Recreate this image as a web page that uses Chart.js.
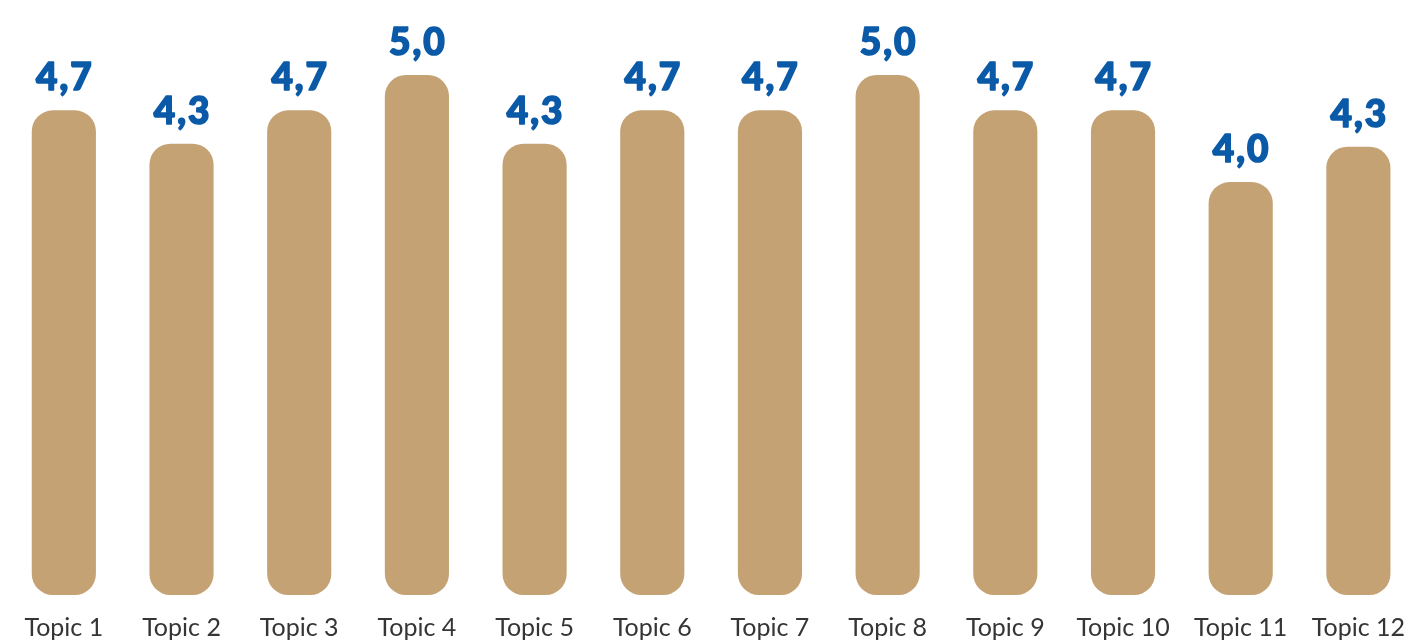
<!DOCTYPE html>
<html>
<head>
<meta charset="utf-8">
<script src="https://cdn.jsdelivr.net/npm/chart.js@4/dist/chart.umd.min.js"></script>
<style>
  html, body { margin: 0; padding: 0; background: #ffffff; overflow: hidden; }
  /* o gráfico passa um pouco da janela, como no recorte original */
  canvas { display: block; }
</style>
</head>
<body>
<canvas id="grafico" width="1423" height="642"></canvas>
<script>
const topicos = ['Topic 1', 'Topic 2', 'Topic 3', 'Topic 4', 'Topic 5', 'Topic 6',
                 'Topic 7', 'Topic 8', 'Topic 9', 'Topic 10', 'Topic 11', 'Topic 12'];
const notas = [4.66, 4.34, 4.66, 5.0, 4.34, 4.66, 4.66, 5.0, 4.66, 4.66, 3.97, 4.31];

const corBarra = '#c4a274';
const corRotulo = '#0b5aa8';

// rótulos acima das barras (formato com vírgula)
const rotulosPlugin = {
    id: 'rotulos',
    afterDatasetsDraw(chart) {
        const ctx = chart.ctx;
        const meta = chart.getDatasetMeta(0);
        ctx.save();
        ctx.fillStyle = corRotulo;
        ctx.strokeStyle = corRotulo;
        ctx.lineWidth = 1.6;
        ctx.lineJoin = 'round';
        ctx.font = '900 37px Lato';
        ctx.letterSpacing = '2px';
        ctx.textAlign = 'center';
        ctx.textBaseline = 'alphabetic';
        meta.data.forEach((bar, i) => {
            const txt = notas[i].toFixed(1).replace('.', ',');
            ctx.fillText(txt, bar.x + 1, bar.y - 20);
            ctx.strokeText(txt, bar.x + 1, bar.y - 20);
        });
        ctx.restore();
    }
};

new Chart(document.getElementById('grafico'), {
    type: 'bar',
    data: {
        labels: topicos,
        datasets: [{
            data: notas,
            backgroundColor: corBarra,
            borderRadius: 21,
            borderSkipped: false,
            categoryPercentage: 1,
            barPercentage: 0.545
        }]
    },
    options: {
        responsive: false,
        animation: false,
        layout: { padding: { top: 75, left: 5, right: 0, bottom: 0 } },
        plugins: {
            legend: { display: false },
            tooltip: { enabled: false }
        },
        scales: {
            x: {
                grid: { display: false, drawTicks: false },
                border: { display: false },
                ticks: { color: '#353535', font: { family: 'Lato', size: 25 }, padding: 18, maxRotation: 0 },
                afterFit: (escala) => { escala.height = 47; }
            },
            y: { display: false, min: 0, max: 5 }
        }
    },
    plugins: [rotulosPlugin]
});
</script>
</body>
</html>
